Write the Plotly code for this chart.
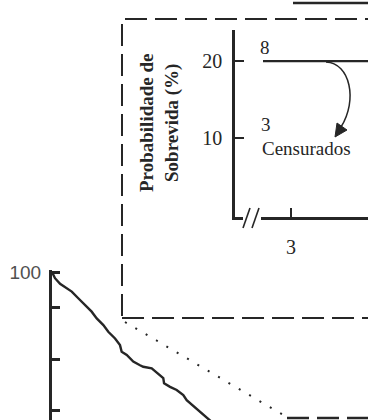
import plotly.graph_objects as go

W, H = 368, 420

# ---- data ----
main_months = [0, 0.23, 0.62, 1.13, 1.52, 2.02, 2.54, 3.05, 3.44, 3.95, 4.33, 4.85, 5.23,
               5.36, 5.75, 6.25, 6.77, 7.02, 7.67, 8.18, 8.56, 8.62, 9.08, 9.59, 10.1,
               10.36, 10.75, 11.13, 11.52, 12.02, 12.6]
main_survival = [100, 98.8, 97.7, 96.8, 96.2, 94.9, 93.6, 92.3, 91.0, 89.7, 88.4, 87.1, 85.8,
                 84.5, 83.9, 82.6, 81.9, 81.6, 81.3, 80.3, 79.4, 78.4, 77.7, 77.1, 76.1,
                 75.1, 74.2, 73.5, 72.6, 71.3, 70.2]
main_ytick_vals = [100, 93.2, 83.1, 73.2]
main_ytick_text = ["100", "", "", ""]

inset_months = [2.0, 6.0]
inset_survival = [20, 20]
inset_ytick_vals = [10, 20]
inset_xtick_vals = [3]
at_risk_label = "8"
censored_count = "3"
censored_label = "Censurados"
inset_ytitle = "Probabilidade de<br>Sobrevida (%)"

INK = "#262626"
FONT = "Liberation Serif"


def px(x):
    return x / W


def py(y):
    return 1 - y / H


fig = go.Figure()
fig.add_trace(go.Scatter(x=main_months, y=main_survival, mode="lines",
                         line=dict(color=INK, width=2.4), xaxis="x", yaxis="y",
                         showlegend=False, hoverinfo="skip"))
fig.add_trace(go.Scatter(x=inset_months, y=inset_survival, mode="lines",
                         line=dict(color=INK, width=2.2), xaxis="x2", yaxis="y2",
                         showlegend=False, hoverinfo="skip"))

shapes = []
# inset dashed frame
shapes.append(dict(type="rect", xref="paper", yref="paper",
                   x0=px(122), x1=px(390), y0=py(318), y1=py(19),
                   line=dict(color=INK, width=2, dash="22px,8px"), layer="above"))
# dotted connector
shapes.append(dict(type="line", xref="paper", yref="paper",
                   x0=px(125), y0=py(322), x1=px(285), y1=py(416),
                   line=dict(color=INK, width=2, dash="2px,10px")))
# zoom-region dashed edge
shapes.append(dict(type="line", xref="paper", yref="paper",
                   x0=px(287), y0=py(418), x1=px(372), y1=py(418),
                   line=dict(color=INK, width=2.5, dash="22px,8px")))
# top solid line
shapes.append(dict(type="line", xref="paper", yref="paper",
                   x0=px(293), y0=py(3), x1=px(372), y1=py(3),
                   line=dict(color=INK, width=2.5)))
# axis break on inset x-axis
shapes.append(dict(type="rect", xref="paper", yref="paper",
                   x0=px(243), x1=px(261), y0=py(221), y1=py(213),
                   line=dict(width=0), fillcolor="white", layer="above"))
for x0 in (243, 252):
    shapes.append(dict(type="line", xref="paper", yref="paper",
                       x0=px(x0), y0=py(228), x1=px(x0 + 7), y1=py(208),
                       line=dict(color=INK, width=1.6), layer="above"))
# curved arrow to censored label
shapes.append(dict(type="path", xref="paper", yref="paper",
                   path=f"M {px(326)},{py(62)} C {px(350)},{py(63)} {px(358)},{py(100)} {px(341)},{py(127)}",
                   line=dict(color=INK, width=1.5)))
shapes.append(dict(type="path", xref="paper", yref="paper",
                   path=f"M {px(335)},{py(137)} L {px(337)},{py(123)} L {px(347)},{py(130)} Z",
                   fillcolor=INK, line=dict(color=INK, width=1)))

annotations = [
    dict(x=2.07, y=21.7, xref="x2", yref="y2", text=at_risk_label, showarrow=False,
         font=dict(family=FONT, size=19, color=INK)),
    dict(x=2.1, y=11.8, xref="x2", yref="y2", text=censored_count, showarrow=False,
         font=dict(family=FONT, size=19, color=INK)),
    dict(x=3.57, y=8.7, xref="x2", yref="y2", text=censored_label, showarrow=False,
         font=dict(family=FONT, size=19, color=INK)),
    dict(x=px(159.5), y=py(123.5), xref="paper", yref="paper", text=inset_ytitle,
         showarrow=False, textangle=-90, xanchor="center", yanchor="middle",
         font=dict(family=FONT, size=19, color=INK, weight="bold")),
]

fig.update_layout(
    width=W, height=H, margin=dict(l=0, r=0, t=0, b=0, pad=0, autoexpand=False),
    paper_bgcolor="white", plot_bgcolor="rgba(0,0,0,0)",
    showlegend=False, shapes=shapes, annotations=annotations,
    xaxis=dict(domain=[px(52), 1], range=[0, 316 / 13], visible=False, anchor="y",
               automargin=False),
    yaxis=dict(domain=[0, 150 / H], range=[71.26, 100.39], anchor="x", automargin=False,
               showline=True, linecolor=INK, linewidth=3, ticks="inside", ticklen=8,
               tickwidth=2.5, tickcolor=INK, tickvals=main_ytick_vals, ticktext=main_ytick_text,
               tickfont=dict(family="Liberation Sans", size=19, color="#505050"),
               showgrid=False, zeroline=False, ticklabelstandoff=4),
    xaxis2=dict(domain=[px(235), 1], range=[1.0, 5.75], anchor="y2", automargin=False,
                showline=True, linecolor=INK, linewidth=2.5, ticks="inside", ticklen=9,
                tickwidth=2, tickcolor=INK, tickvals=inset_xtick_vals,
                tickfont=dict(family=FONT, size=20, color=INK), showgrid=False, zeroline=False,
                ticklabelstandoff=10),
    yaxis2=dict(domain=[203 / H, 390 / H], range=[-0.26, 24.03], anchor="x2", automargin=False,
                showline=True, linecolor=INK, linewidth=2.5, ticks="inside", ticklen=9,
                tickwidth=2, tickcolor=INK, tickvals=inset_ytick_vals,
                tickfont=dict(family=FONT, size=20, color=INK), showgrid=False, zeroline=False,
                ticklabelstandoff=6),
)

fig.write_html("out.html", config={"displayModeBar": False},
               post_script="document.body.style.margin='0';")
